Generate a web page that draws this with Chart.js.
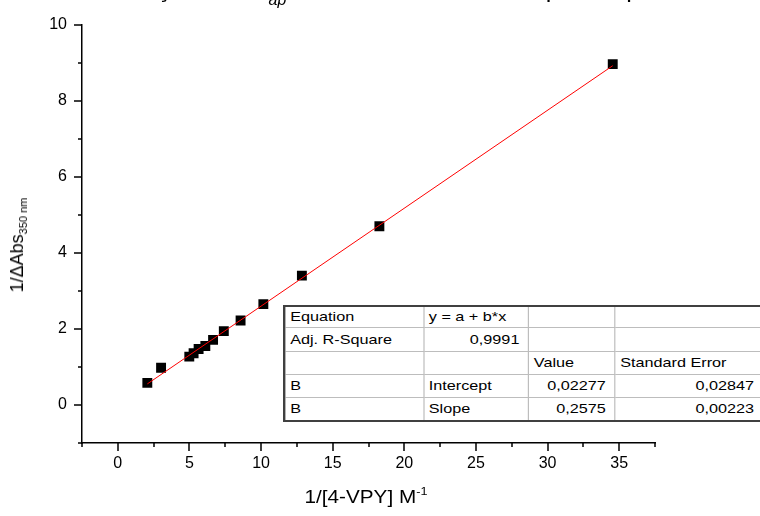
<!DOCTYPE html>
<html>
<head>
<meta charset="utf-8">
<script src="https://cdn.jsdelivr.net/npm/chart.js@4.4.1/dist/chart.umd.min.js"></script>
<style>
  body { margin: 0; width: 760px; height: 516px; overflow: hidden; position: relative; background: #fff;
         font-family: Arial, "Liberation Sans", sans-serif; color: #000; }
  #chart { position: absolute; left: 0; top: 0; }
  #title { position: absolute; left: 42px; top: -24px; font-size: 25px; line-height: 25px; white-space: nowrap; }
  #title sub { font-size: 16px; font-style: italic; vertical-align: -8px; line-height: 0; }
  #ytitle { position: absolute; left: 18px; top: 245px; font-size: 18px; white-space: nowrap;
            transform: translate(-50%, -50%) rotate(-90deg); }
  #ytitle sub { font-size: 11px; vertical-align: -4px; }
  #xtitle { position: absolute; left: 366px; top: 485px; font-size: 18px; white-space: nowrap;
            transform: translateX(-50%) scaleX(1.15); }
  #xtitle sup { font-size: 11px; vertical-align: 8px; }
  #fit { position: absolute; left: 283px; top: 305px; border-collapse: collapse; table-layout: fixed;
         transform: scaleX(1.2); transform-origin: 0 0; font-size: 13.5px; background: #fff;
         border: 2px solid #404040; }
  #fit td { border: 1px solid #bdbdbd; padding: 0 4px; white-space: nowrap; overflow: hidden; }
  #fit td.num { text-align: right; padding-right: 7px; }
</style>
</head>
<body>
<canvas id="chart" width="760" height="516"></canvas>
<div id="title">Determinação das K<sub>ap</sub> da 4-VPY com CD em pH 7 e pela reta de B-H</div>
<div id="ytitle">1/ΔAbs<sub>350 nm</sub></div>
<div id="xtitle">1/[4-VPY] M<sup>-1</sup></div>
<table id="fit"></table>
<script>
const xValues = [2.06, 3.02, 4.99, 5.29, 5.64, 6.11, 6.65, 7.40, 8.57, 10.16, 12.85, 18.26, 34.55];
const yValues = [0.58, 0.98, 1.27, 1.36, 1.47, 1.55, 1.71, 1.94, 2.22, 2.65, 3.40, 4.70, 8.96];

// linear fit results
const fitIntercept = 0.02277;
const fitSlope = 0.2575;
const interceptError = 0.02847;
const slopeError = 0.00223;
const adjRSquare = 0.9991;

const xTickLabels = [0, 5, 10, 15, 20, 25, 30, 35];
const yTickLabels = [0, 2, 4, 6, 8, 10];

const fmt = v => String(v).replace('.', ',');

// fit table
const tableRows = [
    ['Equation', 'y = a + b*x', '', ''],
    ['Adj. R-Square', fmt(adjRSquare), '', ''],
    ['', '', 'Value', 'Standard Error'],
    ['B', 'Intercept', fmt(fitIntercept), fmt(interceptError)],
    ['B', 'Slope', fmt(fitSlope), fmt(slopeError)]
];
const colWidths = [116, 87.5, 72, 124];
const rowHeights = [21, 24, 23, 23, 24];
const table = document.getElementById('fit');
const cg = document.createElement('colgroup');
colWidths.forEach(w => {
    const c = document.createElement('col');
    c.style.width = w + 'px';
    cg.appendChild(c);
});
table.appendChild(cg);
table.style.width = colWidths.reduce((a, b) => a + b, 0) + 'px';
tableRows.forEach((r, i) => {
    const row = table.insertRow();
    row.style.height = rowHeights[i] + 'px';
    r.forEach(text => {
        const cell = row.insertCell();
        cell.textContent = text;
        if (/^[0-9,]+$/.test(text)) cell.className = 'num';
    });
});

// outward tick marks, long for labelled ticks
const tickMarks = {
    id: 'tickMarks',
    afterDraw(chart) {
        const ctx = chart.ctx;
        const area = chart.chartArea;
        const xs = chart.scales.x, ys = chart.scales.y;
        ctx.save();
        ctx.strokeStyle = '#000';
        ctx.lineWidth = 1.5;
        ctx.beginPath();
        xs.ticks.forEach(t => {
            const px = Math.round(xs.getPixelForValue(t.value));
            const len = xTickLabels.includes(t.value) ? 8 : 4;
            ctx.moveTo(px, area.bottom);
            ctx.lineTo(px, area.bottom + len);
        });
        ys.ticks.forEach(t => {
            const py = Math.round(ys.getPixelForValue(t.value));
            const len = yTickLabels.includes(t.value) ? 8 : 4;
            ctx.moveTo(area.left, py);
            ctx.lineTo(area.left - len, py);
        });
        ctx.stroke();
        ctx.restore();
    }
};

Chart.defaults.font.family = 'Arial, "Liberation Sans", sans-serif';
Chart.defaults.color = '#000';

const points = xValues.map((x, i) => ({ x: x, y: yValues[i] }));
const xFirst = xValues[0], xLast = xValues[xValues.length - 1];
const fitLine = [
    { x: xFirst, y: fitIntercept + fitSlope * xFirst },
    { x: xLast, y: fitIntercept + fitSlope * xLast }
];

new Chart(document.getElementById('chart'), {
    type: 'scatter',
    data: {
        datasets: [{
            data: fitLine,
            showLine: true,
            borderColor: '#ff0000',
            borderWidth: 1,
            pointRadius: 0
        }, {
            data: points,
            pointStyle: 'rect',
            pointRadius: 7,
            backgroundColor: '#000',
            borderWidth: 0
        }]
    },
    options: {
        responsive: false,
        animation: false,
        devicePixelRatio: 1,
        layout: { padding: { left: 0, top: 15, right: 105, bottom: 0 } },
        plugins: { legend: { display: false }, tooltip: { enabled: false } },
        scales: {
            x: {
                type: 'linear',
                min: -2.5,
                max: 37.5,
                afterFit: s => { s.height = 73; },
                grid: { display: false, drawTicks: false },
                border: { display: true, color: '#000', width: 1.5 },
                ticks: {
                    stepSize: 2.5,
                    padding: 11,
                    maxRotation: 0,
                    autoSkip: false,
                    font: { size: 16 },
                    callback: v => xTickLabels.includes(v) ? v : ''
                }
            },
            y: {
                type: 'linear',
                min: -1,
                max: 10,
                afterFit: s => { s.width = 82; },
                grid: { display: false, drawTicks: false },
                border: { display: true, color: '#000', width: 1.5 },
                ticks: {
                    stepSize: 1,
                    padding: 15,
                    autoSkip: false,
                    font: { size: 16 },
                    callback: v => yTickLabels.includes(v) ? v : ''
                }
            }
        }
    },
    plugins: [tickMarks]
});
</script>
</body>
</html>
